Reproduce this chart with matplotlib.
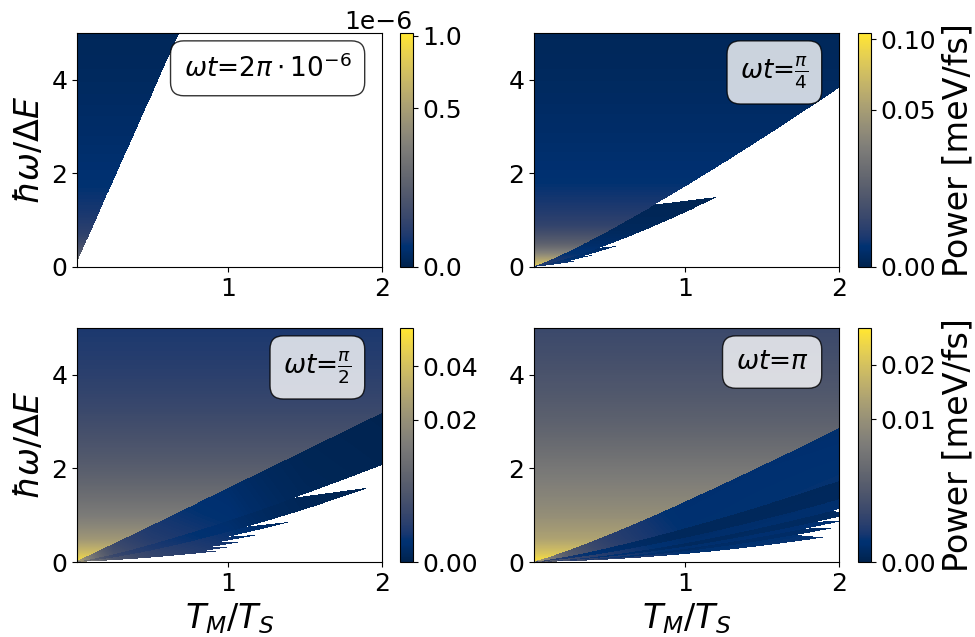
import numpy as np
import matplotlib
matplotlib.use("Agg")
import matplotlib.pyplot as plt
from matplotlib.colors import PowerNorm

plt.rcParams['xtick.labelsize'] = 18
plt.rcParams['ytick.labelsize'] = 18

# grid: x = T_M/T_S, y = hbar*omega/Delta E
x_min, x_max = 0.015, 2.0
y_min, y_max = 0.0, 5.0
nx, ny = 900, 700

labels = [r'$\omega t$=$2\pi\cdot10^{-6}$', r'$\omega t$=$\frac{\pi}{4}$',
          r'$\omega t$=$\frac{\pi}{2}$', r'$\omega t$=$\pi$']

# colour scale per panel (PowerNorm)
vmax_list = [1.02e-6, 0.105, 0.059, 0.0288]
gamma_list = [0.544, 0.537, 0.46, 0.467]
cbar_ticks = [[0, 0.5e-6, 1e-6], [0, 0.05, 0.1], [0, 0.02, 0.04], [0, 0.01, 0.02]]

# power above the first cut-off curve, as a function of hbar*omega/Delta E
bg_y = [[0, 0.3, 0.7, 1.2, 2, 3.5, 5],
        [0, 0.2, 0.5, 0.9, 1.4, 2, 3, 5],
        [0, 0.2, 0.5, 1, 2, 3, 4, 5],
        [0, 0.2, 0.5, 1, 2, 3, 4, 5]]
bg_power = [[3.4e-7, 1.26e-7, 4.4e-8, 2.07e-8, 9.8e-9, 4.2e-9, 1.6e-9],
            [0.0899, 0.0484, 0.0157, 0.00477, 0.00203, 0.00095, 0.00056, 0.000153],
            [0.0565, 0.0383, 0.0224, 0.0131, 0.00565, 0.00265, 0.00125, 0.0007],
            [0.0282, 0.0203, 0.0134, 0.00965, 0.00598, 0.00323, 0.00189, 0.00113]]

# first cut-off curve y = a * x**p
cutoff = [(7.36, 1.0), (1.72, 1.155), (1.58, 1.013), (1.29, 1.15)]

# lower resonance branches: (a, p, x_split, x_tip, relative power)
branches = [
    [],
    [(1.17, 1.28, 0.80, 1.21, 0.036),
     (0.96, 1.30, 0.44, 0.558, 0.023),
     (0.83, 1.30, 0.33, 0.405, 0.023),
     (0.62, 1.30, 0.25, 0.30, 0.023)],
    [(0.882, 1.23, None, None, 0.021),
     (0.646, 1.38, 1.43, 1.92, 0.012),
     (0.54, 1.355, 1.12, 1.41, 0.02),
     (0.46, 1.28, 1.0, 1.2, 0.02),
     (0.38, 1.40, 0.95, 1.10, 0.02),
     (0.31, 1.45, 0.90, 1.00, 0.02),
     (0.25, 1.40, 0.85, 0.95, 0.02)],
    [(0.72, 1.26, None, None, 0.0135),
     (0.52, 1.36, None, None, 0.0015),
     (0.40, 1.50, None, None, 0.006),
     (0.33, 1.55, 1.95, 2.10, 0.002),
     (0.28, 1.62, 1.85, 2.05, 0.006),
     (0.23, 1.70, 1.78, 1.98, 0.003),
     (0.17, 1.75, 1.72, 1.90, 0.008)],
]

# damping of the branch power along T_M/T_S
damp_x = [[0.015, 2], [0.015, 2],
          [0.015, 0.25, 0.5, 1, 1.5, 2],
          [0.015, 0.25, 0.5, 1, 1.5, 2]]
damp_v = [[1, 1], [1, 1],
          [25, 4, 2, 1, 0.15, 0.06],
          [40, 8, 3.5, 1, 1.5, 2.1]]


def power_map(i):
    xs = np.linspace(x_min, x_max, nx)
    ys = np.linspace(y_min, y_max, ny)
    X, Y = np.meshgrid(xs, ys)
    bg = np.exp(np.interp(Y, bg_y[i], np.log(bg_power[i])))
    damp = np.exp(np.interp(X, damp_x[i], np.log(damp_v[i])))
    Z = np.full(X.shape, np.nan)
    a0, p0 = cutoff[i]
    upper = a0 * X**p0
    Z[Y >= upper] = bg[Y >= upper]
    prev = (a0, p0)
    for a, p, xs_, xt, r in branches[i]:
        lower = a * X**p
        top = upper
        if xs_ is not None:
            y_s = prev[0] * xs_**prev[1]
            y_t = a * xt**p
            line = y_s + (y_t - y_s) * (X - xs_) / (xt - xs_)
            top = np.where(X < xs_, upper, np.minimum(upper, line))
            top = np.where(X > xt, -np.inf, top)
        inside = (Y >= lower) & (Y < top)
        Z[inside] = (bg * np.minimum(r * damp, 1.0))[inside]
        upper = lower
        prev = (a, p)
    return Z


W, H = 975, 637
ax_left = [77, 534]
cb_left = [400, 858]
row_bottom = [267, 562]

fig = plt.figure(figsize=(W / 100, H / 100), dpi=100)

for i in range(4):
    row, col = divmod(i, 2)
    ax = fig.add_axes([ax_left[col] / W, (H - row_bottom[row]) / H, 305 / W, 234 / H])
    cax = fig.add_axes([cb_left[col] / W, (H - row_bottom[row]) / H, 12.5 / W, 234 / H])

    Z = power_map(i)
    im = ax.imshow(Z, origin='lower', extent=[x_min, x_max, y_min, y_max],
                   aspect='auto', cmap='cividis', interpolation='nearest',
                   norm=PowerNorm(gamma_list[i], vmin=0, vmax=vmax_list[i]))
    ax.set_xlim(x_min, x_max)
    ax.set_ylim(y_min, y_max)
    ax.set_xticks([1, 2])
    ax.set_yticks([0, 2, 4])

    ax.text(0.9, 0.91, labels[i], transform=ax.transAxes, fontsize=19,
            ha='right', va='top',
            bbox=dict(boxstyle='round,pad=0.5', facecolor='white', alpha=0.8))

    cb = fig.colorbar(im, cax=cax)
    cb.set_ticks(cbar_ticks[i])

    if col == 0:
        ax.set_ylabel(r'$\hbar\omega/\Delta E$', fontsize=24)
    else:
        cb.set_label('Power [meV/fs]', fontsize=24)
    if row == 1:
        ax.set_xlabel(r'$T_M/T_S$', fontsize=24)

fig.savefig('out.png', dpi=100)
